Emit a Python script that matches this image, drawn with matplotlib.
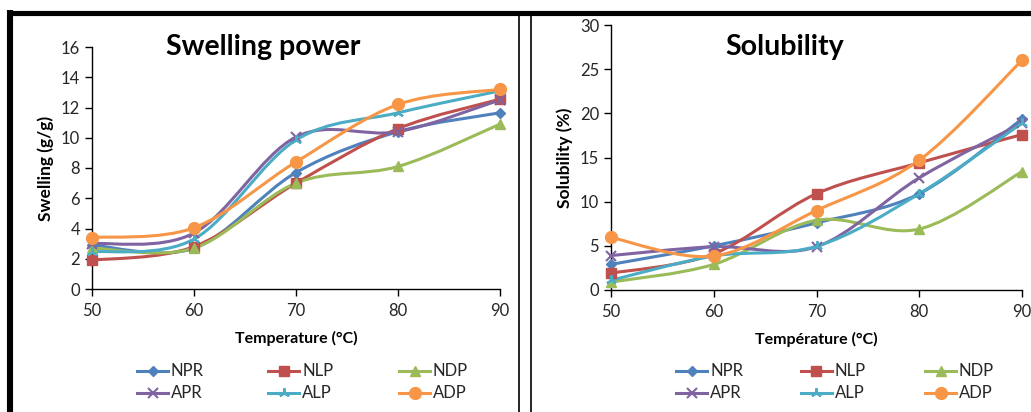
import numpy as np
import matplotlib
matplotlib.use("Agg")
import matplotlib.pyplot as plt
from matplotlib.path import Path
from matplotlib.patches import PathPatch
from matplotlib.lines import Line2D

plt.rcParams['font.family'] = ['Lato', 'DejaVu Sans']

temps = [50, 60, 70, 80, 90]
series_names = ["NPR", "NLP", "NDP", "APR", "ALP", "ADP"]

swelling_NPR = [2.9, 2.7, 7.7, 10.4, 11.65]
swelling_NLP = [1.9, 2.8, 7.0, 10.6, 12.55]
swelling_NDP = [2.7, 2.7, 7.0, 8.1, 10.9]
swelling_APR = [3.0, 3.7, 10.05, 10.4, 12.5]
swelling_ALP = [2.45, 3.3, 9.85, 11.65, 13.1]
swelling_ADP = [3.4, 4.05, 8.4, 12.2, 13.2]

solub_NPR = [2.9, 5.0, 7.6, 10.9, 19.35]
solub_NLP = [1.9, 4.1, 10.9, 14.4, 17.6]
solub_NDP = [0.9, 2.9, 7.9, 6.9, 13.4]
solub_APR = [3.9, 4.9, 4.9, 12.7, 18.9]
solub_ALP = [1.1, 3.85, 4.95, 10.9, 18.9]
solub_ADP = [5.95, 3.85, 9.0, 14.7, 26.0]

swelling = [swelling_NPR, swelling_NLP, swelling_NDP, swelling_APR, swelling_ALP, swelling_ADP]
solub = [solub_NPR, solub_NLP, solub_NDP, solub_APR, solub_ALP, solub_ADP]

colors = ["#4F81BD", "#C0504D", "#9BBB59", "#8064A2", "#4BACC6", "#F79646"]
markers = ["D", "s", "^", "x", (3, 2, 0), "o"]
msizes = [5.5, 7.5, 7.5, 6.5, 7.5, 8.5]

W, H = 1031, 412
fig = plt.figure(figsize=(W / 100, H / 100), dpi=100)


def smooth_path(xs, ys):
    xs = np.asarray(xs, float)
    ys = np.asarray(ys, float)
    n = len(xs)
    verts = [(xs[0], ys[0])]
    codes = [Path.MOVETO]
    for i in range(n - 1):
        p0 = np.array([xs[max(i - 1, 0)], ys[max(i - 1, 0)]])
        p1 = np.array([xs[i], ys[i]])
        p2 = np.array([xs[i + 1], ys[i + 1]])
        p3 = np.array([xs[min(i + 2, n - 1)], ys[min(i + 2, n - 1)]])
        c1 = p1 + (p2 - p0) / 6.0
        c2 = p2 - (p3 - p1) / 6.0
        verts += [tuple(c1), tuple(c2), tuple(p2)]
        codes += [Path.CURVE4] * 3
    return Path(verts, codes)


def ax_rect(x0, x1, y0, y1):
    return [x0 / W, 1 - y1 / H, (x1 - x0) / W, (y1 - y0) / H]


def draw_panel(rect, data, ymax, ystep, title, title_x, title_size, ylabel, xlabel,
               leg_x, leg_cols_dx):
    ax = fig.add_axes(rect)
    for vals, c, m, ms in zip(data, colors, markers, msizes):
        ax.add_patch(PathPatch(smooth_path(temps, vals), facecolor="none",
                               edgecolor=c, lw=2.2, zorder=2))
        ax.plot(temps, vals, ls="none", marker=m, color=c, ms=ms,
                mew=1.5 if m in ("x", (3, 2, 0)) else 1.0, zorder=3, clip_on=False)
    ax.set_xlim(50, 90)
    ax.set_ylim(0, ymax)
    ax.set_xticks(temps)
    ax.set_yticks(np.arange(0, ymax + 0.1, ystep))
    for s in ["top", "right"]:
        ax.spines[s].set_visible(False)
    for s in ["left", "bottom"]:
        ax.spines[s].set_color("#000000")
        ax.spines[s].set_linewidth(1.0)
    ax.tick_params(axis="both", direction="out", length=5, width=1.0,
                   labelsize=12, colors="#000000", labelcolor="#262626")
    ax.tick_params(axis="x", pad=5)
    ax.set_ylabel(ylabel, fontsize=12.5, fontweight="bold", labelpad=5)
    ax.set_xlabel(xlabel, fontsize=11.5, fontweight="bold", labelpad=9)
    fig.text(title_x / W, 1 - 47 / H, title, fontsize=title_size, fontweight="bold",
             ha="center", va="center")
    # legend
    for i, (name, c, m, ms) in enumerate(zip(series_names, colors, markers, msizes)):
        row, col = divmod(i, 3)
        lx0 = leg_x + col * leg_cols_dx
        ly = 371 + row * 22
        fig.add_artist(Line2D([lx0 / W, (lx0 + 31) / W], [1 - ly / H, 1 - ly / H],
                              color=c, lw=2.2, transform=fig.transFigure))
        fig.add_artist(Line2D([(lx0 + 15.5) / W], [1 - ly / H], ls="none", marker=m,
                              color=c, ms=ms, mew=1.5 if m in ("x", (3, 2, 0)) else 1.0,
                              transform=fig.transFigure))
        fig.text((lx0 + 34) / W, 1 - ly / H, name, fontsize=12, color="#262626",
                 ha="left", va="center")
    return ax


draw_panel(ax_rect(92, 500, 47, 289), swelling, 16, 2, "Swelling power", 263, 20.5,
           "Swelling (g/g)", "Temperature (°C)", 137, 131)
draw_panel(ax_rect(611, 1022, 25, 290), solub, 30, 5, "Solubility", 785, 20.5,
           "Solubility (%)", "Température (°C)", 676, 124.5)

# frames
def hline(x0, x1, y, lw):
    fig.add_artist(Line2D([x0 / W, x1 / W], [1 - y / H, 1 - y / H], color="black",
                          lw=lw, transform=fig.transFigure, solid_capstyle="butt"))


def vline(x, y0, y1, lw):
    fig.add_artist(Line2D([x / W, x / W], [1 - y0 / H, 1 - y1 / H], color="black",
                          lw=lw, transform=fig.transFigure, solid_capstyle="butt"))


hline(7, 1031, 12.5, 3.7)
vline(10.3, 10, 412, 4.4)
vline(518.8, 14, 412, 1.2)
vline(530.5, 14, 412, 1.2)

fig.savefig("out.png", dpi=100)
